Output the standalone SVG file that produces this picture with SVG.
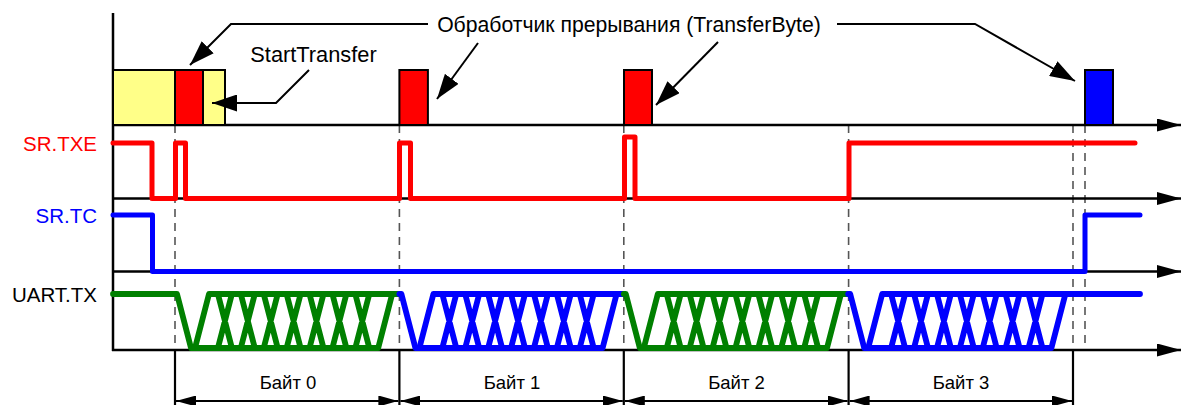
<svg xmlns="http://www.w3.org/2000/svg" xmlns:xlink="http://www.w3.org/1999/xlink" width="1191" height="405" viewBox="0 0 1191 405">
<style>
  text { font-family: "Liberation Sans", Arial, sans-serif; font-size: 20.5px; }
  .big { font-size: 21.2px; }
  .byte { font-size: 18.5px; }
  .axis { stroke: #000; stroke-width: 2.5; fill: none; }
  .dash { stroke: #555; stroke-width: 1.6; stroke-dasharray: 8 6; fill: none; }
  .dim { stroke: #000; stroke-width: 2.2; fill: none; }
  .lead { stroke: #000; stroke-width: 2; fill: none; }
  .sig { fill: none; stroke-width: 5; stroke-linecap: round; stroke-linejoin: round; }
  .uart { fill: none; stroke-width: 5.8; stroke-linecap: round; stroke-linejoin: round; }
  .box { stroke: #000; stroke-width: 2; }
</style>
<defs>
  <marker id="axArrow" markerUnits="userSpaceOnUse" markerWidth="24" markerHeight="13" refX="24" refY="6.5" orient="auto">
    <path d="M0,0 L24,6.5 L0,13 z" fill="#000"/>
  </marker>
  <marker id="dimArrow" markerUnits="userSpaceOnUse" markerWidth="20" markerHeight="11" refX="20" refY="5.5" orient="auto-start-reverse">
    <path d="M0,0 L20,5.5 L0,11 z" fill="#000"/>
  </marker>
  <marker id="leadArrow" markerUnits="userSpaceOnUse" markerWidth="25" markerHeight="17" refX="25" refY="8.5" orient="auto">
    <path d="M0,0 L25,8.5 L0,17 z" fill="#000"/>
  </marker>
  <g id="byteBody" fill="none">
    <path d="M0 294 L2 294 L16 348 L203.2 348 L217.2 294 L224.4 294"/>
    <path d="M20 348 L34 294 L217.2 294"/>
    <path d="M42.9 294 L56.9 348 M42.9 348 L56.9 294 M65.8 294 L79.8 348 M65.8 348 L79.8 294 M88.7 294 L102.7 348 M88.7 348 L102.7 294 M111.6 294 L125.6 348 M111.6 348 L125.6 294 M134.5 294 L148.5 348 M134.5 348 L148.5 294 M157.4 294 L171.4 348 M157.4 348 L171.4 294 M180.3 294 L194.3 348 M180.3 348 L194.3 294"/>
  </g>
</defs>

<g id="grid">
  <line class="dash" x1="175" y1="125" x2="175" y2="350"/>
  <line class="dash" x1="399.4" y1="125" x2="399.4" y2="350"/>
  <line class="dash" x1="623.8" y1="125" x2="623.8" y2="350"/>
  <line class="dash" x1="848.6" y1="125" x2="848.6" y2="350"/>
  <line class="dash" x1="1073" y1="125" x2="1073" y2="350"/>
  <line class="dash" x1="1085" y1="125" x2="1085" y2="350"/>
</g>

<g id="axes">
  <line class="axis" x1="113" y1="13" x2="113" y2="351"/>
  <line class="axis" x1="112" y1="125" x2="1181" y2="125" marker-end="url(#axArrow)"/>
  <line class="axis" x1="112" y1="198.5" x2="1181" y2="198.5" marker-end="url(#axArrow)"/>
  <line class="axis" x1="112" y1="271.5" x2="1181" y2="271.5" marker-end="url(#axArrow)"/>
  <line class="axis" x1="112" y1="350" x2="1181" y2="350" marker-end="url(#axArrow)"/>
</g>

<g id="tasks">
  <g id="startTransferBox">
    <rect class="box" x="113" y="70" width="112" height="55" fill="#FFFF88"/>
  </g>
  <g id="isr0"><rect class="box" x="175" y="70" width="28" height="55" fill="#FF0000"/></g>
  <g id="isr1"><rect class="box" x="399.4" y="70" width="28.5" height="55" fill="#FF0000"/></g>
  <g id="isr2"><rect class="box" x="624" y="70" width="28" height="55" fill="#FF0000"/></g>
  <g id="isr3"><rect class="box" x="1085" y="70" width="28" height="55" fill="#0000FF"/></g>
</g>

<g id="sig-txe">
  <text x="97" y="150.5" text-anchor="end" fill="#FF0000">SR.TXE</text>
  <path class="sig" stroke="#FF0000" d="M113 143 L152 143 L152 198.5 L175.5 198.5 L175.5 143 L185.5 143 L185.5 198.5 L399.5 198.5 L399.5 143 L410.5 143 L410.5 198.5 L624.5 198.5 L624.5 137 L635 137 L635 198.5 L849 198.5 L849 143 L1135 143"/>
</g>

<g id="sig-tc">
  <text x="97" y="223" text-anchor="end" fill="#0000FF">SR.TC</text>
  <path class="sig" stroke="#0000FF" d="M113 215 L152.5 215 L152.5 271.5 L1085 271.5 L1085 215 L1140 215"/>
</g>

<g id="sig-uart">
  <text x="97" y="302" text-anchor="end" fill="#000">UART.TX</text>
  <path class="uart" stroke="#008000" d="M113 294 L175 294"/>
  <use xlink:href="#byteBody" x="175" class="uart" stroke="#008000"/>
  <use xlink:href="#byteBody" x="399.4" class="uart" stroke="#0000FF"/>
  <use xlink:href="#byteBody" x="623.8" class="uart" stroke="#008000"/>
  <use xlink:href="#byteBody" x="848.2" class="uart" stroke="#0000FF"/>
  <path class="uart" stroke="#0000FF" d="M1072.6 294 L1140 294"/>
</g>

<g id="bytes">
  <line class="dim" x1="175" y1="350" x2="175" y2="405"/>
  <line class="dim" x1="399.4" y1="350" x2="399.4" y2="405"/>
  <line class="dim" x1="623.8" y1="350" x2="623.8" y2="405"/>
  <line class="dim" x1="848.6" y1="350" x2="848.6" y2="405"/>
  <line class="dim" x1="1073" y1="350" x2="1073" y2="405"/>
  <line class="dim" x1="176" y1="401" x2="398.4" y2="401" marker-start="url(#dimArrow)" marker-end="url(#dimArrow)"/>
  <line class="dim" x1="400.4" y1="401" x2="622.8" y2="401" marker-start="url(#dimArrow)" marker-end="url(#dimArrow)"/>
  <line class="dim" x1="624.8" y1="401" x2="847.6" y2="401" marker-start="url(#dimArrow)" marker-end="url(#dimArrow)"/>
  <line class="dim" x1="849.6" y1="401" x2="1072" y2="401" marker-start="url(#dimArrow)" marker-end="url(#dimArrow)"/>
  <text class="byte" x="288" y="389" text-anchor="middle">Байт 0</text>
  <text class="byte" x="512" y="389" text-anchor="middle">Байт 1</text>
  <text class="byte" x="736.5" y="389" text-anchor="middle">Байт 2</text>
  <text class="byte" x="961" y="389" text-anchor="middle">Байт 3</text>
</g>

<g id="labels">
  <text class="big" x="629" y="32" text-anchor="middle">Обработчик прерывания (TransferByte)</text>
  <text class="big" x="313.5" y="62" text-anchor="middle" style="font-size:21.8px">StartTransfer</text>
</g>

<g id="connectors">
  <polyline class="lead" points="428,24 231,24 190,65" marker-end="url(#leadArrow)"/>
  <line class="lead" x1="478" y1="43" x2="437" y2="99" marker-end="url(#leadArrow)"/>
  <line class="lead" x1="718" y1="42" x2="656" y2="105" marker-end="url(#leadArrow)"/>
  <polyline class="lead" points="837,24 975,24 1075,81" marker-end="url(#leadArrow)"/>
  <polyline class="lead" points="309,70 276,103 212,103" marker-end="url(#leadArrow)"/>
</g>
</svg>
